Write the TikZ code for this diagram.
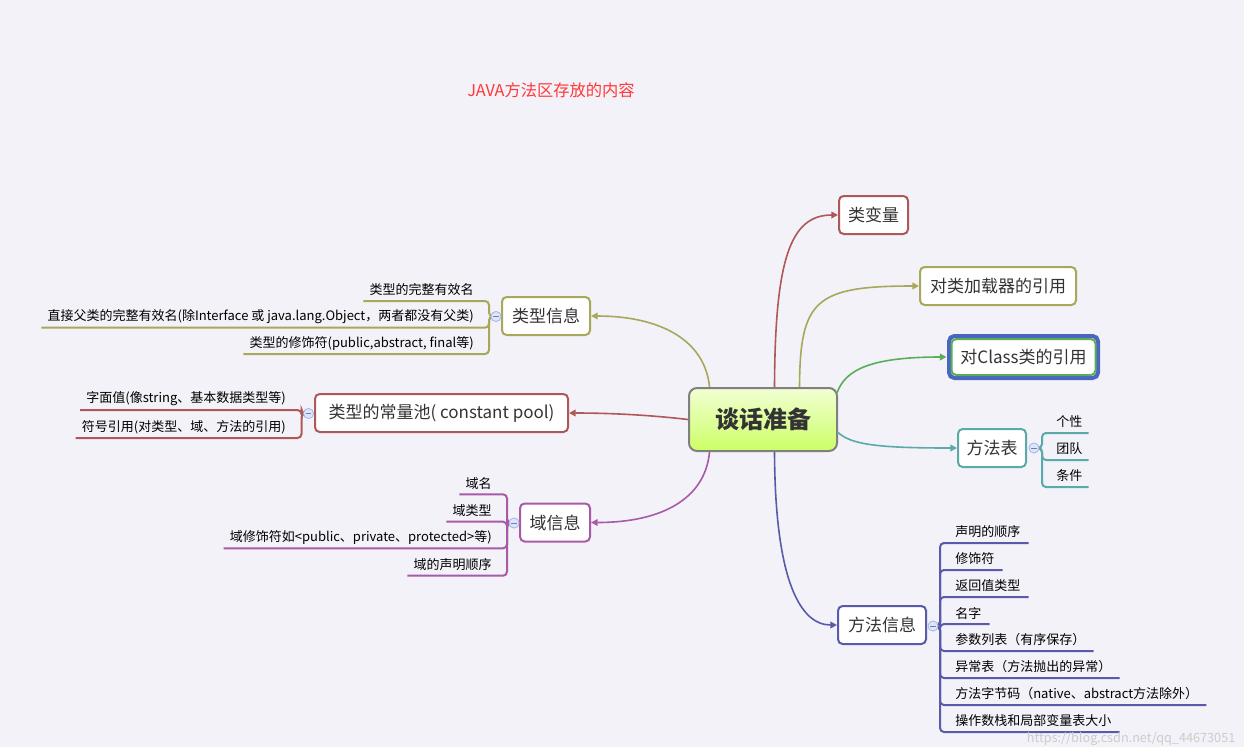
\documentclass[tikz,border=0pt]{standalone}
\usepackage{fontspec}
\setmainfont{Noto Sans CJK SC}
\usetikzlibrary{arrows.meta,calc}
\definecolor{bg}{HTML}{F2F2F8}
\definecolor{cred}{HTML}{B05858}
\definecolor{colive}{HTML}{A8A85A}
\definecolor{cgreen}{HTML}{5AAE5A}
\definecolor{cblue}{HTML}{4A66C0}
\definecolor{cteal}{HTML}{5AAAAA}
\definecolor{cindigo}{HTML}{5A5AAA}
\definecolor{cpurple}{HTML}{A85AA8}
\definecolor{cgray}{HTML}{808080}
\definecolor{txt}{HTML}{333333}
\definecolor{ctitle}{HTML}{FF3838}
\definecolor{foldf}{HTML}{DCE5FA}
\definecolor{foldb}{HTML}{A4B6E8}
\definecolor{ctop}{HTML}{F2FFD4}
\definecolor{cbot}{HTML}{CCFF66}
\tikzset{
  topic/.style={draw, line width=1.5pt, rounded corners=3.5pt, fill=white, inner sep=0pt,
    text=txt, font=\fontsize{12.75}{15}\selectfont, minimum height={38*0.75pt}},
  leaf/.style={inner sep=0pt, text=black, font=\fontsize{9.75}{12}\selectfont},
  conn/.style={line width=1.2pt, -{Triangle[length=5pt,width=5pt]}},
  brk/.style={line width=1.5pt, rounded corners=3pt},
  fold/.style={circle, draw=foldb, fill=foldf, line width=0.5pt, minimum size={10*0.75pt}, inner sep=0pt,
    path picture={\draw[foldb!70!black, line width=0.5pt] ([xshift=-2pt]path picture bounding box.center) -- ([xshift=2pt]path picture bounding box.center);}}
}
\begin{document}
\begin{tikzpicture}[x=0.75pt,y=-0.75pt]
\fill[bg] (0,0) rectangle (1244,747);
\useasboundingbox (0,0) rectangle (1244,747);

% title
\node[text=ctitle, font=\fontsize{12.2}{14}\selectfont] (title) at (551,90) {JAVA方法区存放的内容};

% central
\node[draw=cgray, line width=1.5pt, rounded corners=6pt, top color=ctop, bottom color=cbot,
  minimum width={148*0.75pt}, minimum height={63*0.75pt}, inner sep=0pt,
  text=txt, font=\fontsize{18}{22}\selectfont\bfseries] (c) at (763,419.5) {谈话准备};

% right topics
\node[topic, draw=cred, minimum width={69*0.75pt}] (n1) at (873.5,215) {类变量};
\node[topic, draw=colive, minimum width={156*0.75pt}] (n2) at (998,286) {对类加载器的引用};
\draw[cblue, line width=3pt, rounded corners=4pt] (949,336) rectangle (1098,378);
\node[topic, draw=cgreen, minimum width={144*0.75pt}, minimum height={36*0.75pt}] (n3) at (1023.5,357) {对Class类的引用};
\node[topic, draw=cteal, minimum width={68*0.75pt}] (n4) at (992,448) {方法表};
\node[topic, draw=cindigo, minimum width={88*0.75pt}] (n5) at (882,625) {方法信息};

% left topics
\node[topic, draw=colive, minimum width={88*0.75pt}] (l1) at (546,316) {类型信息};
\node[topic, draw=cred, minimum width={253*0.75pt}] (l2) at (441.5,413) {类型的常量池( constant pool)};
\node[topic, draw=cpurple, minimum width={70*0.75pt}] (l3) at (555,522.5) {域信息};

% connectors
\draw[conn, cred] ($(c.north)+(11.5,0)$) .. controls (775,260) and (790,215) .. (n1.west);
\draw[conn, colive] ($(c.north)+(36.5,0)$) .. controls (800,300) and (815,286) .. (n2.west);
\draw[conn, cgreen] ($(c.north east)+(-1,6)$) .. controls (845,370) and (870,357) .. ($(n3.west)+(-4,0)$);
\draw[conn, cteal] ($(c.east)+(-1,12)$) .. controls (850,445) and (880,448) .. (n4.west);
\draw[conn, cindigo] ($(c.south)+(11.5,0)$) .. controls (775,580) and (800,625) .. (n5.west);
\draw[conn, colive] ($(c.north)+(-53.5,0)$) .. controls (705,340) and (660,316) .. (l1.east);
\draw[conn, cred] (c.west) .. controls (650,415) and (610,413) .. (l2.east);
\draw[conn, cpurple] ($(c.south)+(-53.5,0)$) .. controls (705,500) and (660,522.5) .. (l3.east);

% leaves of l1
\node[leaf, anchor=east] (a1) at (474,290) {类型的完整有效名};
\node[leaf, anchor=east] (a2) at (474,316.7) {直接父类的完整有效名(除Interface 或 java.lang.Object，两者都没有父类)};
\node[leaf, anchor=east] (a3) at (474,343) {类型的修饰符(public,abstract, final等)};
\node[fold] (f1) at (496,316.5) {};
\foreach \k in {a1,a2,a3} \draw[brk, colive] (f1.center) -- ++(-7,0) |- ($(\k.west)+(-6,11)$);
\node[fold] at (f1) {};

% leaves of l2
\node[leaf, anchor=east] (b1) at (286,399) {字面值(像string、基本数据类型等)};
\node[leaf, anchor=east] (b2) at (286,427) {符号引用(对类型、域、方法的引用)};
\node[fold] (f2) at (308.5,413.5) {};
\foreach \k in {b1,b2} \draw[brk, cred] (f2.center) -- ++(-7,0) |- ($(\k.west)+(-6,11)$);
\node[fold] at (f2) {};

% leaves of l3
\node[leaf, anchor=east] (d1) at (492,483.3) {域名};
\node[leaf, anchor=east] (d2) at (492,510.7) {域类型};
\node[leaf, anchor=east] (d3) at (492,537.3) {域修饰符如<public、private、protected>等)};
\node[leaf, anchor=east] (d4) at (492,564.7) {域的声明顺序};
\node[fold] (f3) at (514,523) {};
\foreach \k in {d1,d2,d3,d4} \draw[brk, cpurple] (f3.center) -- ++(-7,0) |- ($(\k.west)+(-6,11)$);
\node[fold] at (f3) {};

% leaves of n4
\node[leaf, anchor=west] (e1) at (1056,422) {个性};
\node[leaf, anchor=west] (e2) at (1056,449) {团队};
\node[leaf, anchor=west] (e3) at (1056,476) {条件};
\node[fold] (f4) at (1034,448) {};
\foreach \k in {e1,e2,e3} \draw[brk, cteal] (f4.center) -- ++(8,0) |- ($(\k.east)+(6,11)$);
\node[fold] at (f4) {};

% leaves of n5
\node[leaf, anchor=west] (m1) at (955,532) {声明的顺序};
\node[leaf, anchor=west] (m2) at (955,559) {修饰符};
\node[leaf, anchor=west] (m3) at (955,586) {返回值类型};
\node[leaf, anchor=west] (m4) at (955,613) {名字};
\node[leaf, anchor=west] (m5) at (955,640) {参数列表（有序保存）};
\node[leaf, anchor=west] (m6) at (955,667) {异常表（方法抛出的异常）};
\node[leaf, anchor=west] (m7) at (955,694) {方法字节码（native、abstract方法除外）};
\node[leaf, anchor=west] (m8) at (955,721) {操作数栈和局部变量表大小};
\node[fold] (f5) at (933,626) {};
\foreach \k in {m1,m2,m3,m4,m5,m6,m7,m8} \draw[brk, cindigo] (f5.center) -- ++(7,0) |- ($(\k.east)+(8,11)$);
\node[fold] at (f5) {};

% watermark
\node[text=gray!40, font=\fontsize{9.5}{11}\selectfont, anchor=east] (wm) at (1240,739) {https://blog.csdn.net/qq\_44673051};
\end{tikzpicture}
\end{document}
